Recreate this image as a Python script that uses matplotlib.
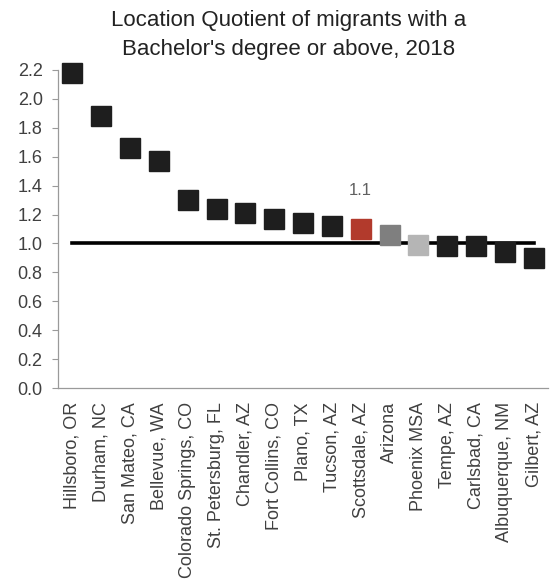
import matplotlib
matplotlib.use("Agg")
import matplotlib.pyplot as plt

plt.rcParams['font.family'] = ['Liberation Sans', 'DejaVu Sans']

# Location quotient por ciudad
ciudades = ['Hillsboro, OR', 'Durham, NC', 'San Mateo, CA', 'Bellevue, WA',
            'Colorado Springs, CO', 'St. Petersburg, FL', 'Chandler, AZ',
            'Fort Collins, CO', 'Plano, TX', 'Tucson, AZ', 'Scottsdale, AZ',
            'Arizona', 'Phoenix MSA', 'Tempe, AZ', 'Carlsbad, CA',
            'Albuquerque, NM', 'Gilbert, AZ']
lq = [2.18, 1.88, 1.66, 1.57, 1.30, 1.24, 1.21, 1.17, 1.14, 1.12, 1.10,
      1.06, 0.99, 0.98, 0.98, 0.94, 0.90]
referencia = [1.0] * len(ciudades)
resaltado = 'Scottsdale, AZ'

colores = {'Scottsdale, AZ': '#b23a2c', 'Arizona': '#7f7f7f', 'Phoenix MSA': '#b5b5b5'}

fig = plt.figure(figsize=(5.52, 5.82), dpi=100)
ax = fig.add_axes([0.105, 0.333, 0.888, 0.547])

x = list(range(len(ciudades)))
ax.plot(x, referencia, color='black', linewidth=2.6, zorder=1)

for i, (c, v) in enumerate(zip(ciudades, lq)):
    ax.plot(i, v, marker='s', markersize=15, linestyle='none',
            color=colores.get(c, '#1e1e1e'), clip_on=False, zorder=3)
    if c == resaltado:
        ax.annotate(f'{v:.1f}', (i, v), xytext=(0, 22), textcoords='offset points',
                    ha='center', va='bottom', fontsize=12, color='#606060')

ax.set_xlim(-0.5, len(ciudades) - 0.5)
ax.set_ylim(0, 2.2)
ax.set_yticks([i / 10 for i in range(0, 23, 2)])
ax.set_yticklabels([f'{i / 10:.1f}' for i in range(0, 23, 2)])
ax.set_xticks(x)
ax.set_xticklabels(ciudades, rotation=90)

for s in ['top', 'right']:
    ax.spines[s].set_visible(False)
for s in ['left', 'bottom']:
    ax.spines[s].set_color('#9a9a9a')
    ax.spines[s].set_linewidth(0.9)
ax.tick_params(axis='y', length=4, color='#9a9a9a', labelsize=13, labelcolor='#404040', pad=7)
ax.tick_params(axis='x', length=0, labelsize=13, labelcolor='#404040', pad=10)

fig.text(0.522, 0.982, "Location Quotient of migrants with a\nBachelor's degree or above, 2018",
         ha='center', va='top', fontsize=16, color='#222222', linespacing=1.5)

plt.savefig('out.png', dpi=100)
